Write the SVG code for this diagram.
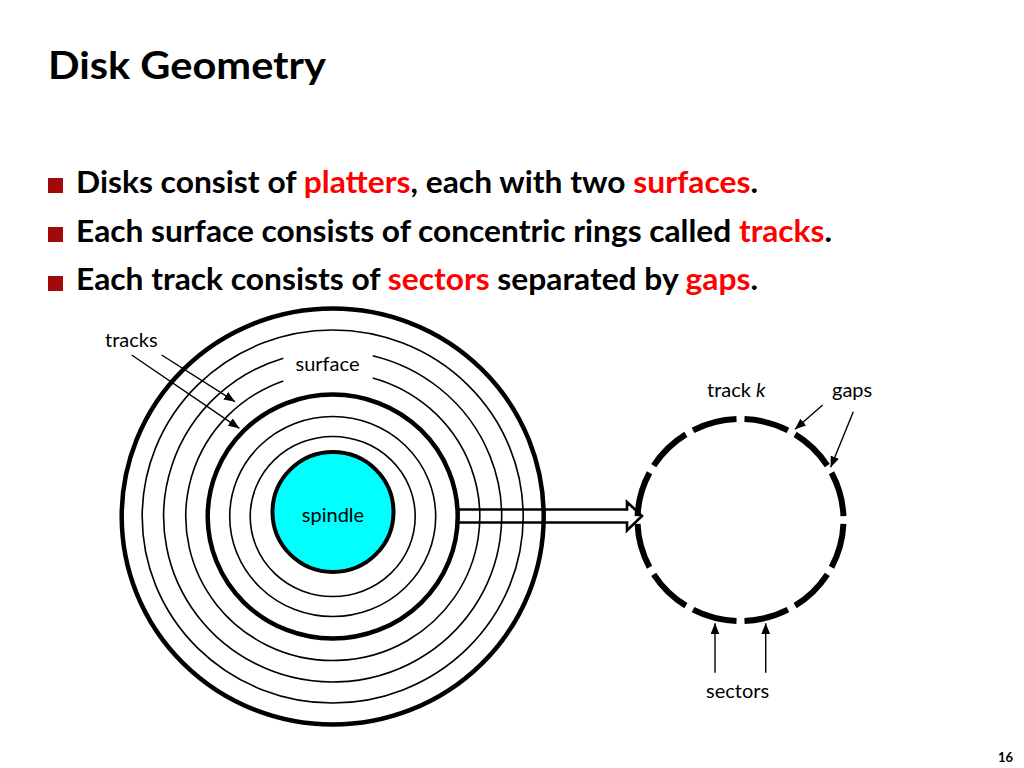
<svg xmlns="http://www.w3.org/2000/svg" width="1024" height="768" viewBox="0 0 1024 768">
<defs>
<style>
text{font-family:Lato,"Open Sans","Liberation Sans",sans-serif;fill:#000}
.title{font-size:38px;font-weight:bold}
.bul{font-size:31px;font-weight:bold}
.red{fill:#FF0000}
.lbl{font-size:20px}
.thin{fill:none;stroke:#000;stroke-width:1.6}
.thick{fill:none;stroke:#000;stroke-width:4.5}
.conn{fill:none;stroke:#000;stroke-width:1.4}
.sq{fill:#A00A0A}
</style>
<marker id="ah" markerUnits="userSpaceOnUse" markerWidth="12" markerHeight="10" refX="11" refY="4.5" orient="auto">
<path d="M0,0 L11,4.5 L0,9 Z" fill="#000"/>
</marker>
</defs>
<rect width="1024" height="768" fill="#fff"/>

<g id="title">
<text class="title" x="48" y="79" textLength="278" lengthAdjust="spacingAndGlyphs">Disk Geometry</text>
</g>

<g id="bullets">
<rect class="sq" x="48" y="178" width="15" height="15"/>
<rect class="sq" x="48" y="227" width="15" height="15"/>
<rect class="sq" x="48" y="276" width="15" height="15"/>
<text class="bul" x="76" y="193" textLength="682" lengthAdjust="spacingAndGlyphs">Disks consist of <tspan class="red">platters</tspan>, each with two <tspan class="red">surfaces</tspan>.</text>
<text class="bul" x="76" y="242" textLength="756" lengthAdjust="spacingAndGlyphs">Each surface consists of concentric rings called <tspan class="red">tracks</tspan>.</text>
<text class="bul" x="76" y="290" textLength="682" lengthAdjust="spacingAndGlyphs">Each track consists of <tspan class="red">sectors</tspan> separated by <tspan class="red">gaps</tspan>.</text>
</g>

<g id="disk">
<ellipse class="thick" cx="332.7" cy="516.5" rx="211" ry="208"/>
<ellipse class="thin" cx="332.7" cy="516.5" rx="190.5" ry="186.5"/>
<path class="thin" d="M283.3 358.2 A169 165.5 0 1 0 372.7 355.7"/>
<path class="thin" d="M283.3 380.9 A147 144 0 1 0 372.7 377.9"/>
<ellipse class="thick" cx="332.7" cy="516.5" rx="125" ry="122"/>
<ellipse class="thin" cx="332.7" cy="516.5" rx="103" ry="100"/>
<ellipse class="thin" cx="332.7" cy="516.5" rx="82.5" ry="80"/>
</g>

<g id="spindle">
<ellipse cx="333" cy="512" rx="60.5" ry="60" fill="#00FFFF" stroke="#000" stroke-width="4"/>
<text class="lbl" x="333" y="522" text-anchor="middle">spindle</text>
</g>

<g id="surface-label">
<text class="lbl" x="327.5" y="371" text-anchor="middle">surface</text>
</g>

<g id="track-k">
<ellipse cx="740.5" cy="520" rx="103" ry="101" pathLength="360" fill="none" stroke="#000" stroke-width="6" stroke-dasharray="25.4 4.6" stroke-dashoffset="27.7"/>
<text class="lbl" x="707" y="397">track <tspan font-style="italic">k</tspan></text>
</g>

<g id="labels">
<text class="lbl" x="105" y="347">tracks</text>
<text class="lbl" x="832" y="397">gaps</text>
<text class="lbl" x="706" y="698">sectors</text>
</g>

<g id="connectors">
<polygon points="458,509.5 627,509.5 627,502 642,516 627,530.5 627,522.5 458,522.5" fill="none" stroke="#000" stroke-width="2.6" stroke-linejoin="miter"/>
<line class="conn" x1="161.7" y1="355" x2="235" y2="401.7" marker-end="url(#ah)"/>
<line class="conn" x1="131.7" y1="355" x2="239.3" y2="428.3" marker-end="url(#ah)"/>
<line class="conn" x1="822.7" y1="405" x2="795" y2="429.3" marker-end="url(#ah)"/>
<line class="conn" x1="853.3" y1="411.7" x2="830.7" y2="467.3" marker-end="url(#ah)"/>
<line class="conn" x1="715" y1="672.7" x2="715" y2="623.3" marker-end="url(#ah)"/>
<line class="conn" x1="765.7" y1="672.7" x2="765.7" y2="623.3" marker-end="url(#ah)"/>
</g>

<g id="page-number">
<text x="1013" y="762" text-anchor="end" font-size="13" font-weight="bold">16</text>
</g>
</svg>
